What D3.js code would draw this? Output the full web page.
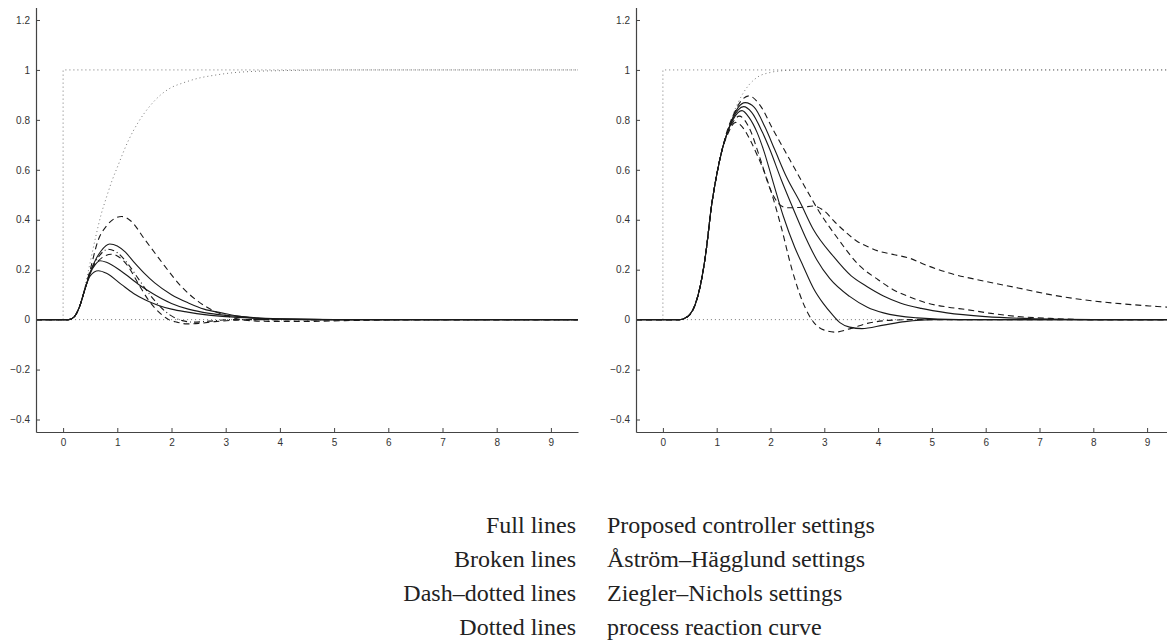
<!DOCTYPE html>
<html>
<head>
<meta charset="utf-8">
<script src="https://cdn.jsdelivr.net/npm/d3@7"></script>
<style>
  body { margin: 0; background: #fff; }
  .tick text { font-family: "Liberation Sans", Arial, sans-serif; font-size: 10px; fill: #333; }
  .legend text { font-family: "Liberation Serif", "Times New Roman", serif; font-size: 24px; fill: #222; }
</style>
</head>
<body>
<script>
// tick values
var xTicks = [0, 1, 2, 3, 4, 5, 6, 7, 8, 9];
var yTicks = [-0.4, -0.2, 0, 0.2, 0.4, 0.6, 0.8, 1, 1.2];

// reference lines (dotted): step and zero level
var stepLine = [[0, 0], [0, 1], [9.5, 1]];
var zeroLine = [[0, 0], [9.5, 0]];

// ---- left panel ----
var leftProcess = [[0,0],[0.1,0],[0.2,0.01],[0.3,0.05],[0.4,0.13],[0.5,0.23],[0.6,0.33],[0.7,0.42],[0.8,0.49],[0.9,0.555],[1.0,0.61],[1.2,0.715],[1.4,0.795],[1.6,0.855],[1.8,0.9],[2.0,0.93],[2.2,0.947],[2.5,0.967],[2.8,0.979],[3.1,0.988],[3.5,0.994],[4,0.997],[4.5,0.999],[5,1],[9.5,1]];
var leftFull1 = [[-0.5,0],[0.1,0],[0.2,0.01],[0.3,0.05],[0.4,0.12],[0.5,0.19],[0.6,0.24],[0.7,0.275],[0.86,0.303],[1.0,0.295],[1.15,0.27],[1.32,0.227],[1.5,0.185],[1.69,0.147],[2.0,0.1],[2.31,0.067],[2.6,0.042],[2.92,0.027],[3.2,0.015],[3.44,0.008],[4,0.002],[5,0],[9.5,0]];
var leftFull2 = [[-0.5,0],[0.1,0],[0.2,0.01],[0.3,0.05],[0.4,0.12],[0.5,0.185],[0.6,0.222],[0.68,0.236],[0.8,0.23],[1.08,0.193],[1.4,0.14],[1.69,0.1],[2.0,0.065],[2.31,0.042],[2.7,0.025],[3.17,0.014],[3.6,0.007],[4.2,0.002],[5,0],[9.5,0]];
var leftFull3 = [[-0.5,0],[0.1,0],[0.2,0.01],[0.3,0.05],[0.4,0.12],[0.5,0.175],[0.65,0.196],[0.8,0.186],[1.08,0.14],[1.3,0.105],[1.51,0.08],[1.75,0.058],[2.0,0.042],[2.3,0.03],[2.61,0.02],[3.0,0.012],[3.5,0.006],[4.2,0.002],[5,0],[9.5,0]];
var leftBroken1 = [[-0.5,0],[0.1,0],[0.2,0.01],[0.3,0.05],[0.4,0.12],[0.5,0.2],[0.65,0.32],[0.8,0.375],[0.95,0.405],[1.08,0.413],[1.25,0.395],[1.51,0.32],[1.7,0.265],[1.88,0.213],[2.18,0.133],[2.49,0.073],[2.8,0.033],[3.1,0.01],[3.4,-0.003],[3.8,-0.007],[4.5,-0.007],[5.2,-0.004],[6,-0.001],[7,0],[9.5,0]];
var leftBroken2 = [[-0.5,0],[0.1,0],[0.2,0.01],[0.3,0.05],[0.4,0.12],[0.5,0.19],[0.65,0.235],[0.89,0.262],[1.0,0.255],[1.2,0.213],[1.38,0.147],[1.57,0.08],[1.82,0.02],[1.95,0],[2.1,-0.01],[2.28,-0.017],[2.5,-0.015],[2.8,-0.008],[3.2,-0.002],[3.6,0],[9.5,0]];
var leftDashDot = [[-0.5,0],[0.1,0],[0.2,0.01],[0.3,0.05],[0.4,0.12],[0.5,0.19],[0.65,0.25],[0.83,0.282],[1.0,0.268],[1.2,0.222],[1.4,0.16],[1.6,0.1],[1.8,0.05],[2.0,0.015],[2.2,-0.004],[2.4,-0.01],[2.7,-0.006],[3.1,0],[9.5,0]];

// ---- right panel ----
var rightProcess = [[0,0],[0.3,0],[0.4,0.005],[0.5,0.02],[0.6,0.06],[0.7,0.14],[0.8,0.27],[0.9,0.45],[1.0,0.58],[1.1,0.68],[1.2,0.75],[1.3,0.82],[1.4,0.87],[1.5,0.91],[1.6,0.94],[1.75,0.97],[2.0,0.99],[2.3,0.998],[2.6,1],[9.5,1]];
var rightFull1 = [[-0.5,0],[0.3,0],[0.4,0.005],[0.5,0.02],[0.6,0.06],[0.7,0.14],[0.8,0.27],[0.9,0.45],[1.0,0.58],[1.1,0.68],[1.2,0.75],[1.3,0.81],[1.4,0.85],[1.53,0.869],[1.7,0.85],[1.9,0.77],[2.08,0.68],[2.3,0.57],[2.55,0.47],[2.8,0.36],[3.17,0.253],[3.5,0.175],[3.79,0.133],[4.1,0.095],[4.41,0.067],[4.8,0.045],[5.28,0.027],[6,0.012],[7,0.003],[8,0],[9.5,0]];
var rightFull2 = [[-0.5,0],[0.3,0],[0.4,0.005],[0.5,0.02],[0.6,0.06],[0.7,0.14],[0.8,0.27],[0.9,0.45],[1.0,0.58],[1.1,0.68],[1.2,0.75],[1.3,0.805],[1.4,0.84],[1.5,0.853],[1.65,0.83],[1.85,0.75],[1.99,0.68],[2.2,0.56],[2.43,0.44],[2.65,0.33],[2.86,0.24],[3.1,0.165],[3.47,0.093],[3.8,0.05],[4.1,0.027],[4.72,0.007],[5.5,0],[9.5,0]];
var rightFull3 = [[-0.5,0],[0.3,0],[0.4,0.005],[0.5,0.02],[0.6,0.06],[0.7,0.14],[0.8,0.27],[0.9,0.45],[1.0,0.58],[1.1,0.68],[1.2,0.75],[1.3,0.8],[1.47,0.837],[1.6,0.81],[1.75,0.75],[1.87,0.68],[2.05,0.55],[2.24,0.413],[2.45,0.29],[2.61,0.213],[2.8,0.125],[2.98,0.065],[3.15,0.02],[3.29,-0.012],[3.47,-0.03],[3.7,-0.036],[4.1,-0.022],[4.5,-0.008],[5,0],[9.5,0]];
var rightBroken1 = [[-0.5,0],[0.3,0],[0.4,0.005],[0.5,0.02],[0.6,0.06],[0.7,0.14],[0.8,0.27],[0.9,0.45],[1.0,0.58],[1.1,0.68],[1.2,0.76],[1.3,0.815],[1.45,0.875],[1.6,0.896],[1.8,0.86],[2.05,0.76],[2.36,0.64],[2.67,0.52],[2.92,0.427],[3.2,0.34],[3.67,0.213],[4.0,0.16],[4.28,0.12],[4.6,0.09],[4.9,0.067],[5.3,0.05],[5.65,0.04],[6.1,0.025],[6.58,0.013],[7.2,0.005],[8,0],[9.5,0]];
var rightBroken2 = [[-0.5,0],[0.3,0],[0.4,0.005],[0.5,0.02],[0.6,0.06],[0.7,0.14],[0.8,0.27],[0.9,0.45],[1.0,0.58],[1.1,0.68],[1.2,0.74],[1.35,0.79],[1.5,0.765],[1.62,0.72],[1.75,0.66],[1.87,0.6],[2.0,0.52],[2.2,0.37],[2.4,0.2],[2.6,0.07],[2.8,-0.01],[3.0,-0.042],[3.2,-0.05],[3.5,-0.035],[3.8,-0.015],[4.2,-0.003],[4.6,0],[9.5,0]];
var rightBroken3 = [[-0.5,0],[0.3,0],[0.4,0.005],[0.5,0.02],[0.6,0.06],[0.7,0.14],[0.8,0.27],[0.9,0.45],[1.0,0.58],[1.1,0.68],[1.2,0.75],[1.3,0.79],[1.42,0.815],[1.6,0.77],[1.8,0.65],[2.0,0.52],[2.15,0.465],[2.3,0.448],[2.6,0.45],[2.8,0.455],[3.0,0.435],[3.2,0.39],[3.4,0.35],[3.6,0.315],[3.8,0.293],[4.0,0.275],[4.3,0.26],[4.6,0.245],[4.85,0.222],[5.3,0.188],[6.0,0.153],[6.6,0.127],[7.2,0.1],[7.8,0.08],[8.5,0.064],[9.3,0.051],[9.5,0.048]];

// legend rows
var legendKeys = ["Full lines", "Broken lines", "Dash\u2013dotted lines", "Dotted lines"];
var legendTexts = ["Proposed controller settings", "\u00c5str\u00f6m\u2013H\u00e4gglund settings", "Ziegler\u2013Nichols settings", "process reaction curve"];

var W = 1167, H = 640;
var svg = d3.select("body").append("svg")
  .attr("width", W)
  .attr("height", H);

// line styles
var styles = {
  full:    { dash: null,      color: "#1a1a1a", width: 1.1 },
  broken:  { dash: "6,4",     color: "#1a1a1a", width: 1.1 },
  dashdot: { dash: "6,3,1,3", color: "#1a1a1a", width: 1.1 },
  dotted:  { dash: "1,3",     color: "#777",    width: 1 }
};

var drawPanel = function(id, x0, x1, curves) {
  var x = d3.scaleLinear().domain([-0.5, 9.5]).range([x0, x1]);
  var y = d3.scaleLinear().domain([-0.45, 1.25]).range([432, 7.5]);

  svg.append("clipPath").attr("id", "clip" + id)
    .append("rect")
    .attr("x", x0).attr("y", 0)
    .attr("width", x1 - x0).attr("height", 433);

  var g = svg.append("g");
  var plot = g.append("g").attr("clip-path", "url(#clip" + id + ")");

  var smooth = d3.line()
    .x(function(d) { return x(d[0]); })
    .y(function(d) { return y(d[1]); })
    .curve(d3.curveMonotoneX);
  var straight = d3.line()
    .x(function(d) { return x(d[0]); })
    .y(function(d) { return y(d[1]); });

  plot.selectAll("path.curve").data(curves).enter().append("path")
    .attr("class", "curve")
    .attr("d", function(d) { return d.straight ? straight(d.pts) : smooth(d.pts); })
    .attr("fill", "none")
    .attr("stroke", function(d) { return styles[d.style].color; })
    .attr("stroke-width", function(d) { return styles[d.style].width; })
    .attr("stroke-dasharray", function(d) { return styles[d.style].dash; });

  // axes, MATLAB style ticks pointing inwards
  var fmt = d3.format("~g");
  var xAxis = g.append("g")
    .attr("transform", "translate(0,432)")
    .call(d3.axisBottom(x).tickValues(xTicks).tickFormat(fmt).tickSizeInner(-4).tickSizeOuter(0).tickPadding(7));
  var yAxis = g.append("g")
    .attr("transform", "translate(" + x0 + ",0)")
    .call(d3.axisLeft(y).tickValues(yTicks).tickFormat(fmt).tickSizeInner(-4).tickSizeOuter(0).tickPadding(6));

  [xAxis, yAxis].forEach(function(a) {
    a.select(".domain").attr("stroke", "#444").attr("stroke-width", 1.2);
    a.selectAll(".tick line").attr("stroke", "#444");
    a.attr("font-family", null).attr("font-size", null);
  });
};

drawPanel("L", 36, 578, [
  { pts: zeroLine, style: "dotted", straight: true },
  { pts: stepLine, style: "dotted", straight: true },
  { pts: leftProcess, style: "dotted" },
  { pts: leftBroken1, style: "broken" },
  { pts: leftBroken2, style: "broken" },
  { pts: leftDashDot, style: "dashdot" },
  { pts: leftFull1, style: "full" },
  { pts: leftFull2, style: "full" },
  { pts: leftFull3, style: "full" }
]);

drawPanel("R", 636, 1174, [
  { pts: zeroLine, style: "dotted", straight: true },
  { pts: stepLine, style: "dotted", straight: true },
  { pts: rightProcess, style: "dotted" },
  { pts: rightBroken1, style: "broken" },
  { pts: rightBroken2, style: "broken" },
  { pts: rightBroken3, style: "broken" },
  { pts: rightFull1, style: "full" },
  { pts: rightFull2, style: "full" },
  { pts: rightFull3, style: "full" }
]);

// legend table
var legend = svg.append("g").attr("class", "legend");
legend.selectAll("text.key").data(legendKeys).enter().append("text")
  .attr("class", "key")
  .attr("x", 576)
  .attr("y", function(d, i) { return 533 + i * 34; })
  .attr("text-anchor", "end")
  .text(function(d) { return d; });
legend.selectAll("text.desc").data(legendTexts).enter().append("text")
  .attr("class", "desc")
  .attr("x", 607)
  .attr("y", function(d, i) { return 533 + i * 34; })
  .text(function(d) { return d; });
</script>
</body>
</html>
